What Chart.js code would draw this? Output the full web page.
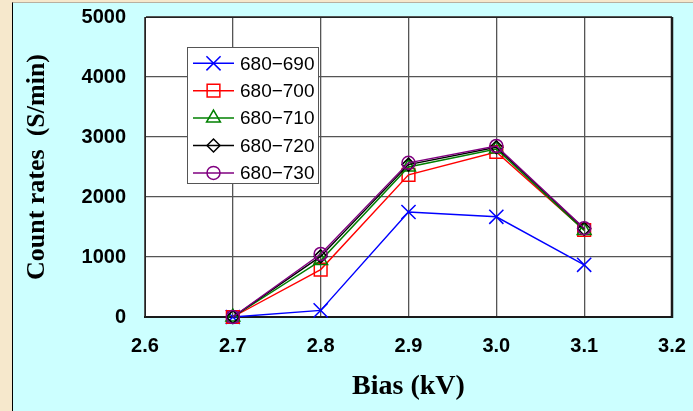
<!DOCTYPE html>
<html>
<head>
<meta charset="utf-8">
<script src="https://cdn.jsdelivr.net/npm/chart.js"></script>
<style>
  html, body { margin: 0; padding: 0; width: 693px; height: 411px; overflow: hidden; background: #F6E8CC; }
  #panel { position: absolute; left: 12px; top: 2px; width: 681px; height: 409px; background: #CCFFFF; border-left: 1px solid #000; border-top: 1px solid #B8B0A0; box-sizing: border-box; }
  #c { position: absolute; left: 0; top: 0; }
</style>
</head>
<body>
<div id="panel"></div>
<canvas id="c" width="693" height="411"></canvas>
<script>
// ---- data ----
const biasKV = [2.7, 2.8, 2.9, 3.0, 3.1];
const seriesLabels = ['680\u2212690', '680\u2212700', '680\u2212710', '680\u2212720', '680\u2212730'];
const rate680_690 = [0, 110, 1750, 1670, 870];
const rate680_700 = [0, 790, 2370, 2750, 1450];
const rate680_710 = [0, 940, 2500, 2800, 1440];
const rate680_720 = [0, 1010, 2540, 2830, 1470];
const rate680_730 = [0, 1050, 2570, 2850, 1480];
const xTickValues = [2.6, 2.7, 2.8, 2.9, 3.0, 3.1, 3.2];
const xTickLabels = ['2.6', '2.7', '2.8', '2.9', '3.0', '3.1', '3.2'];
const yTickValues = [0, 1000, 2000, 3000, 4000, 5000];
const yTickLabels = ['0', '1000', '2000', '3000', '4000', '5000'];
const xTitle = 'Bias (kV)';
const yTitle = 'Count rates  (S/min)';

// ---- styles ----
const seriesValues = [rate680_690, rate680_700, rate680_710, rate680_720, rate680_730];
const colors = ['#0000FF', '#FF0000', '#008000', '#000000', '#800080'];
const pStyles = ['crossRot', 'rect', 'triangle', 'rectRot', 'circle'];
const pRadius = [10, 9, 8, 6.5, 6.5];

const datasets = seriesValues.map((vals, i) => ({
  label: seriesLabels[i],
  data: biasKV.map((x, j) => ({ x: x, y: vals[j] })),
  borderColor: colors[i],
  backgroundColor: colors[i],
  borderWidth: 1.4,
  pointStyle: pStyles[i],
  pointRadius: pRadius[i],
  pointBorderColor: colors[i],
  pointBackgroundColor: 'rgba(0,0,0,0)',
  pointBorderWidth: 1.5,
  tension: 0,
  clip: false,
  order: 5 - i
}));

const bgPlugin = {
  id: 'plotBg',
  beforeDraw(chart) {
    const { ctx, chartArea: a } = chart;
    ctx.save();
    ctx.fillStyle = '#FFFFFF';
    ctx.fillRect(a.left, a.top, a.right - a.left, a.bottom - a.top);
    ctx.restore();
  },
  afterDatasetsDraw(chart) {
    const { ctx, chartArea: a } = chart;
    ctx.save();
    ctx.strokeStyle = '#222';
    ctx.lineWidth = 1;
    ctx.beginPath();
    ctx.moveTo(a.left, a.top + 0.5);
    ctx.lineTo(a.right, a.top + 0.5);
    ctx.stroke();
    ctx.lineWidth = 2.5;
    ctx.strokeStyle = '#1a1a1a';
    ctx.beginPath();
    ctx.moveTo(a.right, a.top);
    ctx.lineTo(a.right, a.bottom + 1);
    ctx.stroke();
    ctx.restore();
  }
};

function drawMarker(ctx, style, r, x, y, color) {
  const H = Chart.helpers;
  if (H && H.drawPoint) {
    ctx.save();
    ctx.strokeStyle = color;
    ctx.fillStyle = 'rgba(0,0,0,0)';
    ctx.lineWidth = 1.5;
    H.drawPoint(ctx, { pointStyle: style, radius: r, rotation: 0, borderWidth: 1.5 }, x, y);
    ctx.restore();
  }
}

const legendPlugin = {
  id: 'floatLegend',
  afterDraw(chart) {
    const ctx = chart.ctx;
    const bx = 187, by = 47, bw = 131, bh = 136;
    ctx.save();
    ctx.fillStyle = '#FFFFFF';
    ctx.fillRect(bx, by, bw, bh);
    ctx.strokeStyle = '#555';
    ctx.lineWidth = 1;
    ctx.strokeRect(bx + 0.5, by + 0.5, bw, bh);
    const rowY0 = 63.3, rowStep = 27.4;
    seriesLabels.forEach((lab, i) => {
      const y = rowY0 + i * rowStep;
      ctx.strokeStyle = colors[i];
      ctx.lineWidth = 1.5;
      ctx.beginPath();
      ctx.moveTo(193, y);
      ctx.lineTo(234, y);
      ctx.stroke();
      drawMarker(ctx, pStyles[i], pRadius[i], 213.5, y, colors[i]);
      ctx.fillStyle = '#000';
      ctx.font = '19px "Liberation Sans", Arial, sans-serif';
      ctx.textBaseline = 'middle';
      ctx.textAlign = 'left';
      ctx.fillText(lab, 240, y + 1);
    });
    ctx.restore();
  }
};

new Chart(document.getElementById('c'), {
  type: 'scatter',
  data: { datasets: datasets },
  options: {
    responsive: false,
    animation: false,
    showLine: true,
    layout: { padding: { top: 17, right: 21, left: 0, bottom: 0 } },
    plugins: { legend: { display: false }, tooltip: { enabled: false } },
    scales: {
      x: {
        type: 'linear',
        min: 2.6, max: 3.2,
        afterBuildTicks(s) { s.ticks = xTickValues.map(v => ({ value: v })); },
        afterFit(s) { s.height = 94; s.paddingLeft = 0; s.paddingRight = 0; },
        ticks: {
          padding: 17,
          color: '#000',
          font: { family: '"Liberation Sans", Arial, sans-serif', size: 20, weight: 'bold' },
          callback: (v, i) => xTickLabels[i],
          maxRotation: 0, autoSkip: false
        },
        grid: { color: '#555', lineWidth: 1.3, drawTicks: false },
        border: { color: '#1a1a1a', width: 2 },
        title: {
          display: true, text: xTitle, color: '#000',
          font: { family: '"Liberation Serif", "Times New Roman", serif', size: 28, weight: 'bold' },
          padding: { top: 0, bottom: 7 }
        }
      },
      y: {
        type: 'linear',
        min: 0, max: 5000,
        afterBuildTicks(s) { s.ticks = yTickValues.map(v => ({ value: v })); },
        afterFit(s) { s.width = 145; s.paddingTop = 0; s.paddingBottom = 0; },
        ticks: {
          padding: 19,
          color: '#000',
          font: { family: '"Liberation Sans", Arial, sans-serif', size: 20, weight: 'bold' },
          callback: (v, i) => yTickLabels[i]
        },
        grid: { color: '#555', lineWidth: 1.3, drawTicks: false },
        border: { color: '#222', width: 1 },
        title: {
          display: true, text: yTitle, color: '#000',
          font: { family: '"Liberation Serif", "Times New Roman", serif', size: 26, weight: 'bold' },
          padding: { top: 22, bottom: 0 }
        }
      }
    }
  },
  plugins: [bgPlugin, legendPlugin]
});
</script>
</body>
</html>
